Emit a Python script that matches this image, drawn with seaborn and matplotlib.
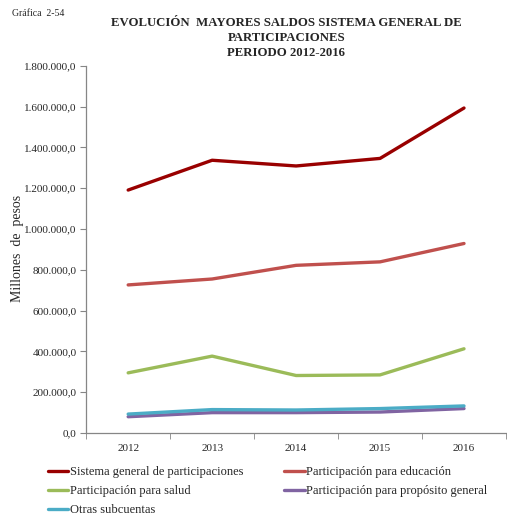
import matplotlib
matplotlib.use("Agg")
import matplotlib.pyplot as plt
import seaborn as sns
import pandas as pd
from matplotlib.ticker import FuncFormatter, FixedLocator

years = ["2012", "2013", "2014", "2015", "2016"]
sgp = [1191000, 1337000, 1309000, 1346000, 1593000]
educacion = [726000, 755000, 822000, 839000, 929000]
salud = [295000, 377000, 282000, 285000, 413000]
proposito = [80000, 100000, 100000, 103000, 120000]
otras = [93000, 115000, 113000, 120000, 133000]

series_names = [
    "Sistema general de participaciones",
    "Participación para educación",
    "Participación para salud",
    "Participación para propósito general",
    "Otras subcuentas",
]
colors = ["#990000", "#C0504D", "#9BBB59", "#8064A2", "#4BACC6"]

rows = []
for name, vals in zip(series_names, [sgp, educacion, salud, proposito, otras]):
    for y, v in zip(years, vals):
        rows.append({"Año": y, "Valor": v, "Serie": name})
df = pd.DataFrame(rows)

sns.set_style("white")
plt.rcParams["font.family"] = ["Liberation Serif", "DejaVu Serif"]

fig = plt.figure(figsize=(5.07, 5.18), dpi=100)
ax = fig.add_axes([0.170, 0.164, 0.828, 0.709])

sns.lineplot(data=df, x="Año", y="Valor", hue="Serie", hue_order=series_names,
             palette=colors, linewidth=2.4, ax=ax, legend=False, sort=False)

ax.set_xlim(-0.5, 4.5)
ax.set_ylim(0, 1800000)
ax.set_yticks(range(0, 1800001, 200000))
ax.yaxis.set_major_formatter(FuncFormatter(
    lambda v, p: f"{v:,.1f}".replace(",", "X").replace(".", ",").replace("X", ".")))
ax.set_xticks(range(5))
ax.set_xticklabels(years)
ax.xaxis.set_minor_locator(FixedLocator([-0.5, 0.5, 1.5, 2.5, 3.5, 4.5]))
ax.tick_params(axis="x", which="major", length=0, labelsize=8, pad=8)
ax.tick_params(axis="x", which="minor", length=4, color="#868686", direction="out", bottom=True)
ax.tick_params(axis="y", length=4, color="#868686", direction="out", left=True, labelsize=8, pad=3)
for s in ["top", "right"]:
    ax.spines[s].set_visible(False)
for s in ["left", "bottom"]:
    ax.spines[s].set_color("#868686")
    ax.spines[s].set_linewidth(0.9)
ax.set_xlabel("")
ax.set_ylabel("")
ax.grid(False)

fig.text(18 / 507, 0.521, "Millones  de  pesos", fontsize=10, rotation=90,
         ha="center", va="center")
fig.text(0.024, 0.974, "Gráfica  2-54", fontsize=7, ha="left", va="center")
fig.text(0.565, 0.927, "EVOLUCIÓN  MAYORES SALDOS SISTEMA GENERAL DE\nPARTICIPACIONES\nPERIODO 2012-2016",
         fontsize=9.2, fontweight="bold", ha="center", va="center", linespacing=1.3)

handles = [plt.Line2D([0], [0], color=c, lw=2.4) for c in colors]
order = [0, 2, 4, 1, 3]
fig.legend([handles[i] for i in order], [series_names[i] for i in order],
           loc="upper left", bbox_to_anchor=(0.094, 0.100),
           ncol=2, frameon=False, fontsize=9, handlelength=1.65, handletextpad=0.1,
           columnspacing=3.3, labelspacing=0.55, borderaxespad=0, borderpad=0)

fig.savefig("out.png", dpi=100)
